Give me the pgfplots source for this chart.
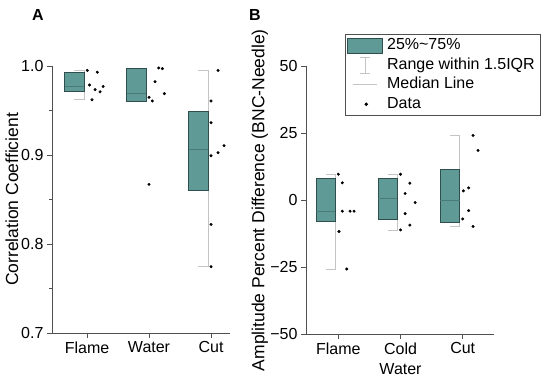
\documentclass[border=0pt]{standalone}
\usepackage{pgfplots}
\pgfplotsset{compat=1.18}
\usepackage{fontspec}
\setmainfont{Liberation Sans}
\definecolor{boxfill}{HTML}{5F9A97}
\definecolor{boxdraw}{HTML}{2E4F4D}
\definecolor{medcol}{HTML}{4A7B78}
\definecolor{whisk}{HTML}{C4C4C4}
\definecolor{axcol}{HTML}{505050}
\pgfplotsset{
  common/.style={
    scale only axis,
    axis lines=left,
    axis line style={axcol, line width=0.8pt, -},
    tick style={axcol, line width=0.8pt},
    tick align=outside,
    major tick length=5pt, minor tick length=3pt,
    xtick={1,2,3},
    ticklabel style={font=\fontsize{16}{20}\selectfont, black},
    label style={font=\fontsize{17.5}{20}\selectfont},
    clip=false,
  },
  boxst/.style={fill=boxfill, draw=boxdraw, line width=0.8pt, forget plot},
  medst/.style={medcol, line width=0.6pt, forget plot},
  whst/.style={whisk, line width=0.8pt, forget plot},
  ptst/.style={only marks, mark=*, mark size=1.3pt, black, forget plot},
}
\begin{document}
\begin{tikzpicture}
\useasboundingbox (0,0) rectangle (550pt,380pt);
% ---------------- Panel A ----------------
\begin{axis}[common,
  at={(52pt,47pt)}, anchor=south west,
  width=178pt, height=267pt,
  xmin=0.435, xmax=3.306, ymin=0.7, ymax=1.0,
  ytick={0.7,0.8,0.9,1.0}, yticklabels={0.7,0.8,0.9,1.0},
  minor ytick={0.75,0.85,0.95},
  xticklabels={Flame,Water,Cut},
  ylabel={Correlation Coefficient},
  ylabel style={at={(axis description cs:-0.225,0.5)}, anchor=center},
]
% whiskers
\addplot[whst] coordinates {(0.795,0.962) (0.95,0.962) (0.95,0.995) (0.795,0.995)};
\addplot[whst] coordinates {(1.795,0.9607) (1.95,0.9607) (1.95,0.9974) (1.795,0.9974)};
\addplot[whst] coordinates {(2.795,0.7745) (2.95,0.7745) (2.95,0.995) (2.795,0.995)};
% boxes
\addplot[boxst] coordinates {(0.64,0.971) (0.95,0.971) (0.95,0.993) (0.64,0.993)} --cycle;
\addplot[boxst] coordinates {(1.64,0.9607) (1.95,0.9607) (1.95,0.9974) (1.64,0.9974)} --cycle;
\addplot[boxst] coordinates {(2.64,0.860) (2.95,0.860) (2.95,0.9487) (2.64,0.9487)} --cycle;
% medians
\addplot[medst] coordinates {(0.64,0.9775) (0.95,0.9775)};
\addplot[medst] coordinates {(1.64,0.9693) (1.95,0.9693)};
\addplot[medst] coordinates {(2.64,0.9067) (2.95,0.9067)};
% data
\addplot[ptst] coordinates {(1.005,0.995) (1.166,0.993) (1.04,0.9787) (1.13,0.9734) (1.21,0.971) (1.26,0.977) (1.08,0.962)};
\addplot[ptst] coordinates {(2,0.867) (2.097,0.9824) (2.156,0.9978) (2.215,0.997) (2.247,0.9689) (2,0.9648) (2.053,0.9607)};
\addplot[ptst] coordinates {(3.113,0.995) (3,0.9607) (3,0.9363) (3,0.8992) (3.113,0.9026) (3.21,0.9105) (3,0.822) (3,0.7745)};
\end{axis}
% ---------------- Panel B ----------------
\begin{axis}[common,
  at={(306pt,46pt)}, anchor=south west,
  width=188pt, height=267.6pt,
  xmin=0.48, xmax=3.503, ymin=-50, ymax=50,
  ytick={-50,-25,0,25,50}, yticklabels={−50,−25,0,25,50},
  xticklabels={Flame,Cold\\Water,Cut},
  xticklabel style={align=center},
  ylabel={Amplitude Percent Difference (BNC-Needle)},
  ylabel style={at={(axis description cs:-0.245,0.5)}, anchor=center},
  legend style={at={(rel axis cs:0.207,1.122)}, anchor=north west,
    draw=axcol, line width=0.8pt, fill=white,
    font=\fontsize{16}{19}\selectfont,
    inner xsep=1.5pt, inner ysep=1.5pt, row sep=0pt,
    nodes={text height=12pt, text depth=4pt, inner ysep=1.8pt, inner xsep=4.5pt},
    cells={anchor=west}},
  legend cell align=left,
]
\addlegendimage{legend image code/.code={\draw[fill=boxfill,draw=boxdraw,line width=0.8pt] (0pt,-7.5pt) rectangle (35pt,7.5pt);}}
\addlegendentry{25\%\textasciitilde 75\%}
\addlegendimage{legend image code/.code={\path[draw=none,fill=none] (0pt,0pt) rectangle (35pt,0.1pt); \draw[whisk,line width=0.8pt] (13pt,-8pt)--(23pt,-8pt) (18pt,-8pt)--(18pt,8pt) (13pt,8pt)--(23pt,8pt);}}
\addlegendentry{Range within 1.5IQR}
\addlegendimage{legend image code/.code={\path[draw=none,fill=none] (0pt,0pt) rectangle (35pt,0.1pt); \draw[whisk,line width=0.8pt] (6pt,0pt)--(30pt,0pt);}}
\addlegendentry{Median Line}
\addlegendimage{legend image code/.code={\path[draw=none,fill=none] (0pt,0pt) rectangle (35pt,0.1pt); \fill[black] (19pt,0pt) circle (1.3pt);}}
\addlegendentry{Data}
% whiskers
\addplot[whst] coordinates {(0.795,-25.7) (0.95,-25.7) (0.95,9.7) (0.795,9.7)};
\addplot[whst] coordinates {(1.795,-11.1) (1.95,-11.1) (1.95,9.7) (1.795,9.7)};
\addplot[whst] coordinates {(2.795,-9.8) (2.95,-9.8) (2.95,24.3) (2.795,24.3)};
% boxes
\addplot[boxst] coordinates {(0.64,-7.96) (0.95,-7.96) (0.95,7.96) (0.64,7.96)} --cycle;
\addplot[boxst] coordinates {(1.64,-7.2) (1.95,-7.2) (1.95,8) (1.64,8)} --cycle;
\addplot[boxst] coordinates {(2.64,-8.35) (2.95,-8.35) (2.95,11.45) (2.64,11.45)} --cycle;
% medians
\addplot[medst] coordinates {(0.64,-4.1) (0.95,-4.1)};
\addplot[medst] coordinates {(1.64,0.62) (1.95,0.62)};
\addplot[medst] coordinates {(2.64,0) (2.95,0)};
% data
\addplot[ptst] coordinates {(1,9.7) (1.064,6.5) (1.064,-4.1) (1.188,-4.1) (1.252,-4.1) (1.01,-11.7) (1.135,-25.7)};
\addplot[ptst] coordinates {(2,9.7) (2.15,6.35) (2.074,2.5) (2.235,-0.87) (2.074,-5) (2.15,-9.3) (2,-11.1)};
\addplot[ptst] coordinates {(3.166,24.2) (3.246,18.6) (3.01,3.5) (3.096,4.6) (3.096,-3.9) (3,-7) (3.166,-9.8)};
\end{axis}
\node[font=\bfseries\fontsize{16}{18}\selectfont] at (38pt,365pt) {A};
\node[font=\bfseries\fontsize{16}{18}\selectfont] at (255pt,365pt) {B};
\end{tikzpicture}
\end{document}
